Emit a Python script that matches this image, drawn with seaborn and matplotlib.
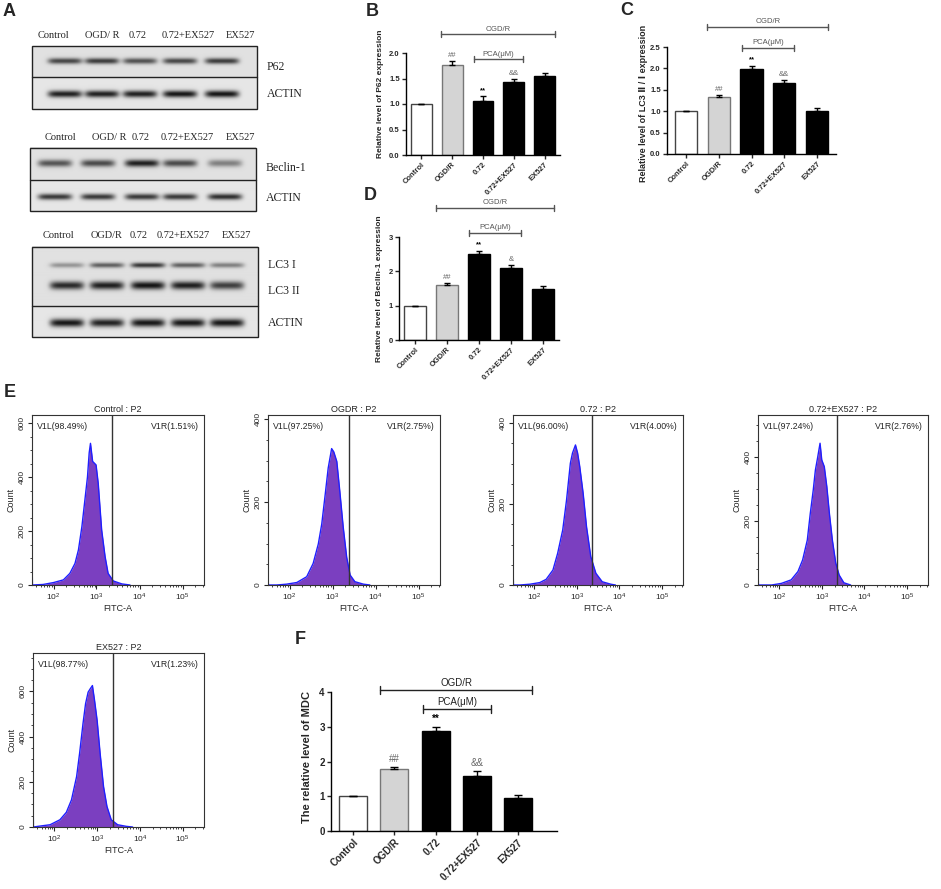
import numpy as np
import pandas as pd
import seaborn as sns
import matplotlib.pyplot as plt
from matplotlib.ticker import MultipleLocator, FixedLocator

sns.set_style("white")
plt.rcParams['font.family'] = ['Liberation Sans', 'DejaVu Sans']

# ---------------- data ----------------
groups = ["Control", "OGD/R", "0.72", "0.72+EX527", "EX527"]
bar_colors = ["white", "#d4d4d4", "black", "black", "black"]
bar_edges = ["#444444", "#777777", "black", "black", "black"]

p62_vals = [1.0, 1.77, 1.05, 1.44, 1.54]
p62_errs = [0.0, 0.07, 0.10, 0.05, 0.07]
p62_marks = ["", "##", "**", "&&", ""]

lc3_vals = [1.0, 1.34, 1.98, 1.65, 1.01]
lc3_errs = [0.0, 0.04, 0.08, 0.07, 0.07]
lc3_marks = ["", "##", "**", "&&", ""]

beclin_vals = [1.0, 1.60, 2.50, 2.10, 1.50]
beclin_errs = [0.0, 0.07, 0.10, 0.07, 0.08]
beclin_marks = ["", "##", "**", "&", ""]

mdc_vals = [1.0, 1.78, 2.88, 1.57, 0.95]
mdc_errs = [0.0, 0.06, 0.12, 0.16, 0.08]
mdc_marks = ["", "##", "**", "&&", ""]

# western blot band strengths (0 = no band, 1 = black)
p62_band = [0.70, 0.75, 0.65, 0.70, 0.75]
actin1_band = [0.90, 0.90, 0.90, 0.95, 0.95]
beclin_band = [0.65, 0.70, 0.90, 0.70, 0.45]
actin2_band = [0.80, 0.80, 0.80, 0.80, 0.85]
lc3i_band = [0.35, 0.60, 0.80, 0.60, 0.45]
lc3ii_band = [0.85, 0.90, 0.95, 0.90, 0.75]
actin3_band = [0.95, 0.90, 0.95, 0.95, 0.95]
blot1_lanes = ["Control", "OGD/ R", "0.72", "0.72+EX527", "EX527"]
blot2_lanes = ["Control", "OGD/ R", "0.72", "0.72+EX527", "EX527"]
blot3_lanes = ["Control", "OGD/R", "0.72", "0.72+EX527", "EX527"]

# flow cytometry histograms: log10(FITC-A) and count
hist_titles = ["Control : P2", "OGDR : P2", "0.72 : P2", "0.72+EX527 : P2", "EX527 : P2"]
hist_left = ["V1L(98.49%)", "V1L(97.25%)", "V1L(96.00%)", "V1L(97.24%)", "V1L(98.77%)"]
hist_right = ["V1R(1.51%)", "V1R(2.75%)", "V1R(4.00%)", "V1R(2.76%)", "V1R(1.23%)"]
hist_gate = [3.36, 3.38, 3.36, 3.36, 3.36]
hist_ymax = [630, 410, 420, 530, 770]
hist_yticks = [[0, 200, 400, 600], [0, 200, 400], [0, 200, 400], [0, 200, 400], [0, 200, 400, 600]]

ctrl_log = [1.50, 1.51, 1.76, 2.00, 2.23, 2.38, 2.50, 2.58, 2.66, 2.73, 2.79, 2.83, 2.86,
            2.91, 2.99, 3.04, 3.12, 3.20, 3.27, 3.39, 3.59, 3.78]
ctrl_cnt = [105, 0, 2, 9, 19, 43, 80, 130, 216, 315, 400, 490, 525,
            458, 445, 377, 204, 105, 43, 15, 4, 0]
ogdr_log = [1.50, 1.51, 1.70, 1.93, 2.17, 2.40, 2.55, 2.67, 2.75, 2.83, 2.90, 2.98, 3.03,
            3.10, 3.17, 3.25, 3.33, 3.41, 3.52, 3.72, 3.87]
ogdr_cnt = [28, 0, 0, 2, 6, 20, 52, 99, 147, 218, 282, 329, 321,
            298, 226, 139, 67, 24, 8, 2, 0]
pca_log = [1.50, 1.51, 1.66, 1.90, 2.13, 2.28, 2.44, 2.55, 2.67, 2.76, 2.85, 2.90, 2.97,
           3.02, 3.07, 3.15, 3.23, 3.33, 3.45, 3.60, 3.80, 3.91]
pca_cnt = [62, 0, 0, 2, 6, 14, 37, 78, 136, 210, 301, 326, 346,
           326, 293, 227, 144, 70, 29, 8, 2, 0]
pcaex_log = [1.50, 1.51, 1.82, 2.05, 2.28, 2.44, 2.55, 2.66, 2.73, 2.80, 2.85, 2.90, 2.96,
             3.00, 3.06, 3.12, 3.18, 3.25, 3.33, 3.41, 3.52, 3.68]
pcaex_cnt = [52, 0, 0, 5, 16, 42, 78, 140, 223, 296, 358, 395, 442,
             390, 369, 306, 223, 140, 68, 31, 7, 0]
ex_log = [1.50, 1.51, 1.62, 1.90, 2.13, 2.28, 2.40, 2.52, 2.59, 2.67, 2.73, 2.79, 2.84,
          2.89, 2.94, 3.00, 3.07, 3.15, 3.23, 3.33, 3.48, 3.68, 3.83]
ex_cnt = [179, 0, 3, 10, 32, 65, 120, 223, 326, 458, 546, 597, 612,
          626, 560, 472, 326, 179, 91, 32, 10, 3, 0]
hist_logs = [ctrl_log, ogdr_log, pca_log, pcaex_log, ex_log]
hist_cnts = [ctrl_cnt, ogdr_cnt, pca_cnt, pcaex_cnt, ex_cnt]

# ---------------- figure ----------------
W, H = 941, 889
fig = plt.figure(figsize=(W / 100, H / 100), dpi=100)


def px_axes(x0, y0, x1, y1):
    return fig.add_axes([x0 / W, 1 - y1 / H, (x1 - x0) / W, (y1 - y0) / H])


def letter(x, y, s):
    fig.text(x / W, 1 - y / H, s, fontsize=13, fontweight='bold', va='top', ha='left')


# ---- panel A: western blots ----
axA = px_axes(0, 0, 370, 360)
axA.set_xlim(0, 370)
axA.set_ylim(360, 0)
axA.axis('off')


def draw_blot(box, divider, centers, bands, lanes, lane_y, lane_xs, names):
    x0, y0, x1, y1 = box
    xs = np.arange(x0, x1) + 0.5
    ys = np.arange(y0, y1) + 0.5
    X, Y = np.meshgrid(xs, ys)
    img = np.full(X.shape, 0.9)
    img[Y < divider] = 0.88
    for cy, half, strength in bands:
        for cx, s in zip(centers, strength):
            img -= s * 0.85 * np.exp(-((X - cx) / 17.0) ** 6 - ((Y - cy) / half) ** 2)
    img = np.clip(img, 0, 1)
    axA.imshow(img, cmap='gray', vmin=0, vmax=1, extent=(x0, x1, y1, y0),
               aspect='auto', interpolation='bilinear')
    axA.add_patch(plt.Rectangle((x0, y0), x1 - x0, y1 - y0, fill=False,
                                lw=1.0, ec='#222222'))
    axA.plot([x0, x1], [divider, divider], color='#222222', lw=1.0)
    for lx, lab in zip(lane_xs, lanes):
        axA.text(lx, lane_y, lab, ha='center', va='center', fontsize=7.5,
                 family='Liberation Serif')
    for ny, nm in names:
        axA.text(x1 + 10, ny, nm, ha='left', va='center', fontsize=8.5,
                 family='Liberation Serif')


draw_blot((32, 46, 257, 109), 77, [65, 102, 140, 180, 222],
          [(61, 3.0, p62_band), (94, 3.5, actin1_band)],
          blot1_lanes, 35, [53, 102, 138, 188, 240], [(67, "P62"), (94, "ACTIN")])
draw_blot((30, 148, 256, 211), 180, [55, 98, 142, 180, 225],
          [(164, 3.5, beclin_band), (197, 3.0, actin2_band)],
          blot2_lanes, 137, [60, 109, 141, 187, 240], [(168, "Beclin-1"), (198, "ACTIN")])
draw_blot((32, 247, 258, 337), 306, [67, 107, 148, 188, 227],
          [(266, 2.5, lc3i_band), (286, 4.0, lc3ii_band), (323, 4.0, actin3_band)],
          blot3_lanes, 235, [58, 107, 139, 183, 236],
          [(265, "LC3 I"), (291, "LC3 II"), (323, "ACTIN")])


# ---- bar panels ----
def bar_panel(box, vals, errs, marks, ylim, yticks, ylabel, lab_xy, xlim,
              br_ogd, br_pca, fs_tick, fs_lab, fs_br, br_color, cap):
    ax = px_axes(*box)
    df = pd.DataFrame({'group': groups, 'value': vals})
    sns.barplot(data=df, x='group', y='value', hue='group', palette=bar_colors,
                width=0.68, legend=False, ax=ax, linewidth=1.0)
    for patch, ec in zip(ax.patches, bar_edges):
        patch.set_edgecolor(ec)
    pos = np.arange(len(vals))
    ax.errorbar(pos, vals, yerr=[np.zeros(len(vals)), errs], fmt='none',
                ecolor='black', elinewidth=1.0, capsize=cap, capthick=1.0)
    ax.set_xlim(*xlim)
    ax.set_ylim(*ylim)
    ax.set_yticks(yticks)
    ax.set_xlabel("")
    ax.set_ylabel(ylabel, fontsize=fs_lab, fontweight='bold')
    ax.yaxis.set_label_coords(*lab_xy)
    sns.despine(ax=ax)
    for sp in ['left', 'bottom']:
        ax.spines[sp].set_linewidth(1.0)
        ax.spines[sp].set_color('black')
    ax.tick_params(axis='both', direction='out', length=3, width=1.0,
                   labelsize=fs_tick, pad=1.5, left=True, bottom=True)
    for t in ax.get_yticklabels():
        t.set_fontweight('bold')
    ax.set_xticks(pos)
    ax.set_xticklabels(groups, rotation=45, ha='right', rotation_mode='anchor',
                       fontweight='bold')
    top = ylim[1]
    for p, v, e, m in zip(pos, vals, errs, marks):
        if m:
            col = 'black' if m == '**' else '#666666'
            ax.text(p, v + e + 0.02 * top, m, ha='center', va='bottom',
                    fontsize=fs_br, color=col, fontweight='bold' if m == '**' else 'normal')
    tick = 0.03 * top
    for (xa, xb, yb), txt in [(br_ogd, "OGD/R"), (br_pca, "PCA(μM)")]:
        ax.plot([xa, xb], [yb, yb], color=br_color, lw=1.0, clip_on=False)
        for xx in (xa, xb):
            ax.plot([xx, xx], [yb - tick, yb + tick], color=br_color, lw=1.0,
                    clip_on=False)
        ax.text((xa + xb) / 2, yb + 0.015 * top, txt, ha='center', va='bottom',
                fontsize=fs_br, color=br_color)
    return ax


bar_panel((406, 53, 560, 155), p62_vals, p62_errs, p62_marks, (0, 2.0),
          [0.0, 0.5, 1.0, 1.5, 2.0], "Relative level of P62 expression",
          (-0.14, 0.6), (-0.5, 4.5), (0.65, 4.35, 2.37), (1.7, 3.3, 1.88),
          5.5, 6, 5.5, '#555555', 2.5)
bar_panel((667, 47, 836, 154), lc3_vals, lc3_errs, lc3_marks, (0, 2.5),
          [0.0, 0.5, 1.0, 1.5, 2.0, 2.5], "Relative level of LC3 Ⅱ / Ⅰ expression",
          (-0.11, 0.47), (-0.58, 4.58), (0.65, 4.35, 2.97), (1.7, 3.3, 2.48),
          5.5, 6.5, 5.5, '#555555', 2.5)
bar_panel((399, 237, 559, 340), beclin_vals, beclin_errs, beclin_marks, (0, 3),
          [0, 1, 2, 3], "Relative level of Beclin-1 expression",
          (-0.1, 0.5), (-0.5, 4.5), (0.65, 4.35, 3.85), (1.7, 3.3, 3.12),
          5.5, 6, 5.5, '#555555', 2.5)
bar_panel((331, 692, 557, 831), mdc_vals, mdc_errs, mdc_marks, (0, 4),
          [0, 1, 2, 3, 4], "The relative level of MDC",
          (-0.085, 0.53), (-0.54, 4.95), (0.66, 4.34, 4.06), (1.7, 3.34, 3.51),
          7, 8, 7, '#222222', 3)


# ---- panel E: flow cytometry histograms ----
def hist_panel(box, i):
    ax = px_axes(*box)
    xs = 10 ** np.array(hist_logs[i])
    cnt = np.array(hist_cnts[i])
    ax.fill_between(xs, cnt, color='#7b3fc0', lw=0)
    sns.lineplot(x=xs, y=cnt, ax=ax, color='#1f1fff', lw=1.0, sort=False)
    ax.axvline(10 ** hist_gate[i], color='#333333', lw=1.0)
    ax.set_xscale('log')
    ax.set_xlim(10 ** 1.5, 10 ** 5.5)
    ax.set_ylim(0, hist_ymax[i])
    ax.xaxis.set_major_locator(FixedLocator([1e2, 1e3, 1e4, 1e5]))
    ax.yaxis.set_major_locator(FixedLocator(hist_yticks[i]))
    ax.yaxis.set_minor_locator(MultipleLocator(50))
    ax.tick_params(axis='both', which='major', length=3, width=0.8, labelsize=6, pad=1.5,
                   direction='out', left=True, bottom=True)
    ax.tick_params(axis='both', which='minor', length=1.5, width=0.6,
                   direction='out', left=True, bottom=True)
    ax.tick_params(axis='y', labelrotation=90)
    for t in ax.get_yticklabels():
        t.set_va('center')
    for sp in ax.spines.values():
        sp.set_linewidth(0.8)
        sp.set_color('#333333')
    ax.set_title(hist_titles[i], fontsize=6.5, pad=2)
    ax.set_xlabel("FITC-A", fontsize=6.5, labelpad=1)
    ax.set_ylabel("Count", fontsize=6.5, labelpad=2)
    ax.text(0.03, 0.96, hist_left[i], transform=ax.transAxes, ha='left', va='top',
            fontsize=6.3)
    ax.text(0.97, 0.96, hist_right[i], transform=ax.transAxes, ha='right', va='top',
            fontsize=6.3)
    return ax


hist_panel((32, 415, 204, 585), 0)
hist_panel((268, 415, 440, 585), 1)
hist_panel((513, 415, 683, 585), 2)
hist_panel((758, 415, 928, 585), 3)
hist_panel((33, 653, 204, 827), 4)

letter(3, 3, "A")
letter(366, 3, "B")
letter(620, 2, "C")
letter(364, 187, "D")
letter(4, 384, "E")
letter(295, 631, "F")

fig.savefig("out.png", dpi=100)
